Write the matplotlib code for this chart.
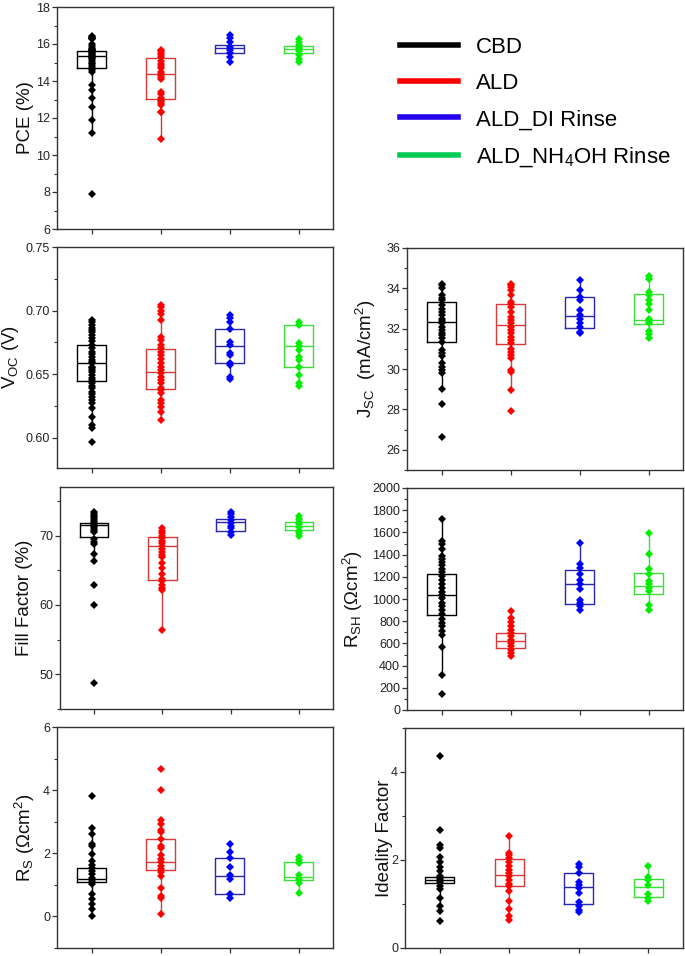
import matplotlib
matplotlib.use("Agg")
import matplotlib.pyplot as plt
from matplotlib.lines import Line2D
from matplotlib.ticker import MultipleLocator

plt.rcParams['font.family'] = ['Liberation Sans', 'DejaVu Sans']
plt.rcParams['mathtext.fontset'] = 'custom'
plt.rcParams['mathtext.rm'] = 'Liberation Sans'
plt.rcParams['mathtext.it'] = 'Liberation Sans:italic'
plt.rcParams['mathtext.default'] = 'regular'

# ---------------- data ----------------
groups = ["CBD", "ALD", "ALD_DI Rinse", "ALD_NH$_4$OH Rinse"]

# PCE (%)
PCE_CBD = [16.45, 16.4, 16.35, 16.3, 16.25, 16.0, 15.9, 15.8, 15.75, 15.7, 15.65, 15.6, 15.55, 15.5,
           15.45, 15.4, 15.35, 15.3, 15.25, 15.2, 15.1, 15.0, 14.9, 14.8, 14.7, 14.6, 14.5,
           13.8, 13.5, 13.1, 12.6, 11.9, 11.2, 7.9]
PCE_ALD = [15.7, 15.6, 15.5, 15.4, 15.3, 15.1, 14.9, 14.8, 14.7, 14.5, 14.4, 14.3, 14.2, 14.1,
           13.4, 13.3, 13.1, 13.0, 12.9, 12.8, 12.7, 12.35, 12.3, 10.85]
PCE_DI = [16.47, 16.3, 16.1, 15.85, 15.7, 15.5, 15.3, 15.05]
PCE_NH = [16.25, 16.1, 15.95, 15.8, 15.6, 15.4, 15.2, 15.05]
# box stats: q1, median, q3, whisker low, whisker high
PCE_BOX = [[14.68, 15.36, 15.63, 11.2, 16.45],
           [13.02, 14.37, 15.27, 10.85, 15.7],
           [15.54, 15.79, 15.97, 15.05, 16.47],
           [15.54, 15.72, 15.9, 15.05, 16.25]]

# Voc (V)
VOC_CBD = [0.6926, 0.6908, 0.6887, 0.6866, 0.6847, 0.6829, 0.6808, 0.6782, 0.6761, 0.6729, 0.6703,
           0.6676, 0.6658, 0.6637, 0.6611, 0.6597, 0.6584, 0.6558, 0.6545, 0.6532, 0.6513, 0.6492,
           0.6471, 0.6453, 0.6426, 0.6408, 0.6387, 0.6361, 0.6339, 0.6321, 0.6295, 0.6268, 0.6234,
           0.6163, 0.6097, 0.6071, 0.5966]
VOC_ALD = [0.7045, 0.7024, 0.6997, 0.6974, 0.6926, 0.6795, 0.6768, 0.6729, 0.6703, 0.6676, 0.665,
           0.6618, 0.6584, 0.6558, 0.6532, 0.6505, 0.6479, 0.6453, 0.6426, 0.6392, 0.6374, 0.6347,
           0.6295, 0.6268, 0.6242, 0.6203, 0.6137]
VOC_DI = [0.6966, 0.694, 0.6913, 0.6855, 0.675, 0.6729, 0.6663, 0.665, 0.6584, 0.6571, 0.6479, 0.6461]
VOC_NH = [0.6913, 0.6887, 0.6742, 0.6721, 0.6689, 0.6637, 0.6611, 0.6558, 0.6492, 0.6426, 0.6408]
VOC_BOX = [[0.6447, 0.6589, 0.6729, 0.6071, 0.6926],
           [0.6382, 0.6518, 0.6697, 0.6137, 0.7045],
           [0.6587, 0.6721, 0.6858, 0.6461, 0.6966],
           [0.6553, 0.6721, 0.6887, 0.6408, 0.6913]]

# Jsc (mA/cm2)
JSC_CBD = [34.24, 34.15, 34.02, 33.66, 33.53, 33.41, 33.17, 33.0, 32.84, 32.67, 32.5, 32.38, 32.26,
           32.1, 31.93, 31.8, 31.68, 31.55, 31.35, 30.94, 30.78, 30.66, 30.28, 30.12, 29.95, 29.79,
           29.0, 28.26, 26.63]
JSC_ALD = [34.24, 34.15, 34.07, 33.91, 33.66, 33.33, 33.25, 33.08, 32.84, 32.59, 32.42, 32.26, 32.1,
           31.93, 31.77, 31.6, 31.44, 31.27, 31.02, 30.86, 30.69, 30.53, 29.95, 29.87, 28.95, 27.9]
JSC_DI = [34.43, 33.91, 33.58, 33.41, 32.92, 32.67, 32.5, 32.26, 32.1, 31.85, 31.77]
JSC_NH = [34.62, 34.48, 33.83, 33.66, 33.41, 33.25, 32.92, 32.5, 32.38, 32.26, 31.88, 31.72, 31.52]
JSC_BOX = [[31.35, 32.34, 33.33, 29.0, 34.24],
           [31.22, 32.18, 33.25, 28.95, 34.24],
           [32.06, 32.62, 33.58, 31.77, 34.43],
           [32.21, 32.42, 33.71, 31.52, 34.62]]

# Fill factor (%)
FF_CBD = [73.35, 73.11, 72.87, 72.63, 72.39, 72.15, 71.91, 71.67, 71.44, 71.2, 70.96, 70.72, 70.48,
          69.52, 69.14, 68.8, 67.37, 66.32, 62.82, 60.05, 48.71]
FF_ALD = [71.05, 70.72, 70.38, 70.0, 69.62, 69.28, 68.9, 68.47, 68.09, 67.7, 67.27, 66.89, 66.08,
          65.31, 64.5, 63.78, 63.4, 62.92, 62.44, 62.1, 56.36]
FF_DI = [73.44, 73.11, 72.73, 72.3, 71.82, 71.44, 71.05, 70.57, 70.1]
FF_NH = [72.78, 72.39, 72.01, 71.63, 71.2, 70.72, 70.38, 70.0]
FF_BOX = [[69.86, 71.53, 71.77, 66.32, 73.35],
          [63.54, 68.56, 69.86, 56.36, 71.05],
          [70.67, 71.91, 72.39, 70.1, 73.44],
          [70.81, 71.44, 71.91, 70.0, 72.78]]

# Rsh (Ohm cm2)
RSH_CBD = [1719, 1523, 1493, 1448, 1388, 1357, 1336, 1306, 1273, 1246, 1207, 1167, 1131, 1095, 1065,
           1035, 1005, 965, 935, 905, 866, 824, 784, 754, 715, 679, 564, 317, 142]
RSH_ALD = [896, 830, 793, 754, 724, 694, 664, 633, 603, 573, 543, 513, 483]
RSH_DI = [1508, 1318, 1282, 1222, 1167, 1131, 1086, 995, 965, 935, 905]
RSH_NH = [1599, 1403, 1267, 1228, 1161, 1131, 1101, 1071, 950, 905]
RSH_BOX = [[857, 1035, 1228, 317, 1719],
           [558, 618, 697, 483, 896],
           [956, 1137, 1261, 905, 1508],
           [1047, 1116, 1234, 905, 1599]]

# Rs (Ohm cm2)
RS_CBD = [3.81, 2.8, 2.62, 2.29, 2.22, 1.98, 1.75, 1.64, 1.54, 1.43, 1.33, 1.23, 1.12, 1.02, 0.7,
          0.54, 0.39, 0.23, 0.0]
RS_ALD = [4.68, 4.0, 3.04, 2.93, 2.74, 2.66, 2.45, 2.24, 2.17, 1.93, 1.82, 1.72, 1.59, 1.49, 1.4,
          1.28, 0.91, 0.65, 0.57, 0.07]
RS_DI = [2.29, 2.03, 1.85, 1.56, 1.31, 1.2, 0.7, 0.58]
RS_NH = [1.88, 1.8, 1.68, 1.3, 1.2, 1.05, 0.75]
RS_BOX = [[1.09, 1.2, 1.52, 0.0, 2.8],
          [1.47, 1.72, 2.46, 0.07, 3.04],
          [0.7, 1.27, 1.86, 0.58, 2.29],
          [1.15, 1.25, 1.71, 0.75, 1.88]]

# Ideality factor
N_CBD = [4.37, 2.69, 2.35, 2.28, 2.07, 1.96, 1.84, 1.74, 1.64, 1.57, 1.49, 1.4, 1.33, 1.14, 0.96,
         0.84, 0.62]
N_ALD = [2.55, 2.16, 2.11, 2.04, 1.96, 1.87, 1.78, 1.7, 1.63, 1.55, 1.46, 1.4, 1.29, 1.07, 0.88,
         0.73, 0.64]
N_DI = [1.91, 1.84, 1.7, 1.51, 1.44, 1.37, 1.25, 1.04, 0.96, 0.87, 0.81]
N_NH = [1.87, 1.61, 1.55, 1.44, 1.22, 1.14, 1.07]
N_BOX = [[1.47, 1.54, 1.61, 0.84, 2.07],
         [1.42, 1.67, 2.02, 0.64, 2.55],
         [1.0, 1.38, 1.71, 0.81, 1.91],
         [1.16, 1.39, 1.57, 1.07, 1.87]]

# ---------------- style ----------------
W, H = 685, 956
fig = plt.figure(figsize=(W / 100, H / 100), dpi=100)

marker_colors = ['#000000', '#FF0000', '#0000FF', '#00EE00']
box_colors = ['#000000', '#D83838', '#2828B0', '#38E038']
legend_colors = ['#000000', '#FF0000', '#2200EE', '#00CC55']
tick_color = '#222222'


def make_axes(left, top, right, bottom):
    return fig.add_axes([left / W, 1 - bottom / H, (right - left) / W, (bottom - top) / H])


def panel(rect, point_sets, box, ylim, major, minor, label, label_x):
    ax = make_axes(*rect)
    stats = []
    for q1, med, q3, lo, hi in box:
        stats.append(dict(q1=q1, med=med, q3=q3, whislo=lo, whishi=hi, fliers=[]))
    arts = ax.bxp(stats, positions=[1, 2, 3, 4], widths=0.42, showfliers=False, showcaps=False,
                  patch_artist=False, manage_ticks=False)
    for i, c in enumerate(box_colors):
        arts['boxes'][i].set(color=c, linewidth=1.0)
        arts['medians'][i].set(color=c, linewidth=1.0)
        arts['whiskers'][2 * i].set(color=c, linewidth=1.0)
        arts['whiskers'][2 * i + 1].set(color=c, linewidth=1.0)
    for i, pts in enumerate(point_sets):
        ax.plot([i + 1] * len(pts), pts, linestyle='none', marker='D', markersize=3.6,
                color=marker_colors[i], markeredgewidth=0, zorder=3)
    ax.set_xlim(0.5, 4.5)
    ax.set_ylim(*ylim)
    ax.set_xticks([1, 2, 3, 4])
    ax.set_xticklabels([])
    ax.yaxis.set_major_locator(MultipleLocator(major))
    ax.yaxis.set_minor_locator(MultipleLocator(minor))
    ax.tick_params(axis='both', which='major', direction='out', length=3.5, width=0.9,
                   color='#333333', labelsize=9, labelcolor=tick_color, pad=1.5)
    ax.tick_params(axis='y', which='minor', direction='out', length=2, width=0.8, color='#333333')
    for s in ax.spines.values():
        s.set_color('#333333')
        s.set_linewidth(1.0)
    ax.set_ylabel(label, fontsize=13.5, color='#111111')
    ax.yaxis.set_label_coords(label_x, 0.5)
    return ax


ax1 = panel((57, 7, 333, 229), [PCE_CBD, PCE_ALD, PCE_DI, PCE_NH], PCE_BOX, (6, 18), 2, 1,
            'PCE (%)', -0.083)
ax1.yaxis.set_major_formatter(plt.FormatStrFormatter('%d'))

ax2 = panel((57, 247, 333, 468), [VOC_CBD, VOC_ALD, VOC_DI, VOC_NH], VOC_BOX, (0.576, 0.75),
            0.05, 0.025, 'V$_{OC}$ (V)', -0.13)
ax2.yaxis.set_major_formatter(plt.FormatStrFormatter('%.2f'))

ax3 = panel((407, 248, 683, 470), [JSC_CBD, JSC_ALD, JSC_DI, JSC_NH], JSC_BOX, (25, 36), 2, 1,
            'J$_{SC}$  (mA/cm$^{2}$)', -0.105)
ax3.set_yticks([26, 28, 30, 32, 34, 36])

ax4 = panel((60, 487, 333, 709), [FF_CBD, FF_ALD, FF_DI, FF_NH], FF_BOX, (45, 77), 10, 5,
            'Fill Factor (%)', -0.099)

ax5 = panel((407, 488, 683, 710), [RSH_CBD, RSH_ALD, RSH_DI, RSH_NH], RSH_BOX, (0, 2000), 200, 100,
            'R$_{SH}$ (Ωcm$^{2}$)', -0.152)

ax6 = panel((57, 727, 333, 948), [RS_CBD, RS_ALD, RS_DI, RS_NH], RS_BOX, (-1, 6), 2, 1,
            'R$_{S}$ (Ωcm$^{2}$)', -0.072)

ax7 = panel((405, 728, 683, 948), [N_CBD, N_ALD, N_DI, N_NH], N_BOX, (0, 5), 2, 1,
            'Ideality Factor', -0.043)

handles = [Line2D([0], [0], color=c, linewidth=4) for c in legend_colors]
fig.legend(handles, groups, loc='upper left', bbox_to_anchor=(400 / W, 1 - 37 / H),
           frameon=False, fontsize=16, handlelength=2.6, handletextpad=0.8, labelspacing=0.68,
           borderpad=0, borderaxespad=0)

fig.savefig('out.png', dpi=100)
